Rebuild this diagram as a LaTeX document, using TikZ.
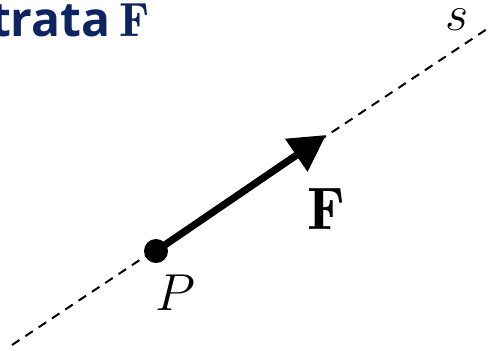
\RequirePackage{fix-cm}
\documentclass[tikz,border=0pt]{standalone}
\usepackage{fontspec}
\setsansfont{Open Sans}
\usetikzlibrary{arrows.meta}
\definecolor{titleblue}{RGB}{12,36,98}
\begin{document}
\begin{tikzpicture}[x=0.5pt,y=-0.5pt,
  dashline/.style={line width=1pt,dash pattern=on 4.5pt off 3.5pt},
  forcearrow/.style={line width=3.6pt,-{Triangle[length=18pt,width=19pt]}},
  lbl/.style={inner sep=0pt},
  titletext/.style={inner sep=0pt,anchor=base east,text=titleblue}]
\useasboundingbox (0,0) rectangle (492,350);
\coordinate (a) at (12,345);
\coordinate (b) at (487,29);
\draw[dashline] (a) -- (b);
\coordinate (P) at (156,251);
\coordinate (tip) at (326,135);
\draw[forcearrow] (P) -- (tip);
\fill (P) circle (6pt);
\node[lbl,font=\fontsize{26}{30}\selectfont] (Plbl) at (175,293) {$P$};
\node[lbl,font=\fontsize{30}{36}\selectfont] (Flbl) at (326,209) {$\mathbf{F}$};
\node[lbl,font=\fontsize{25}{30}\selectfont] (slbl) at (457,20) {$s$};
\node[titletext,font=\fontsize{24}{28}\selectfont\sffamily\bfseries] (title) at (111,36) {trata};
\node[titletext,font=\fontsize{24}{28}\selectfont] (titleF) at (150,36) {$\mathbf{F}$};
\end{tikzpicture}
\end{document}
